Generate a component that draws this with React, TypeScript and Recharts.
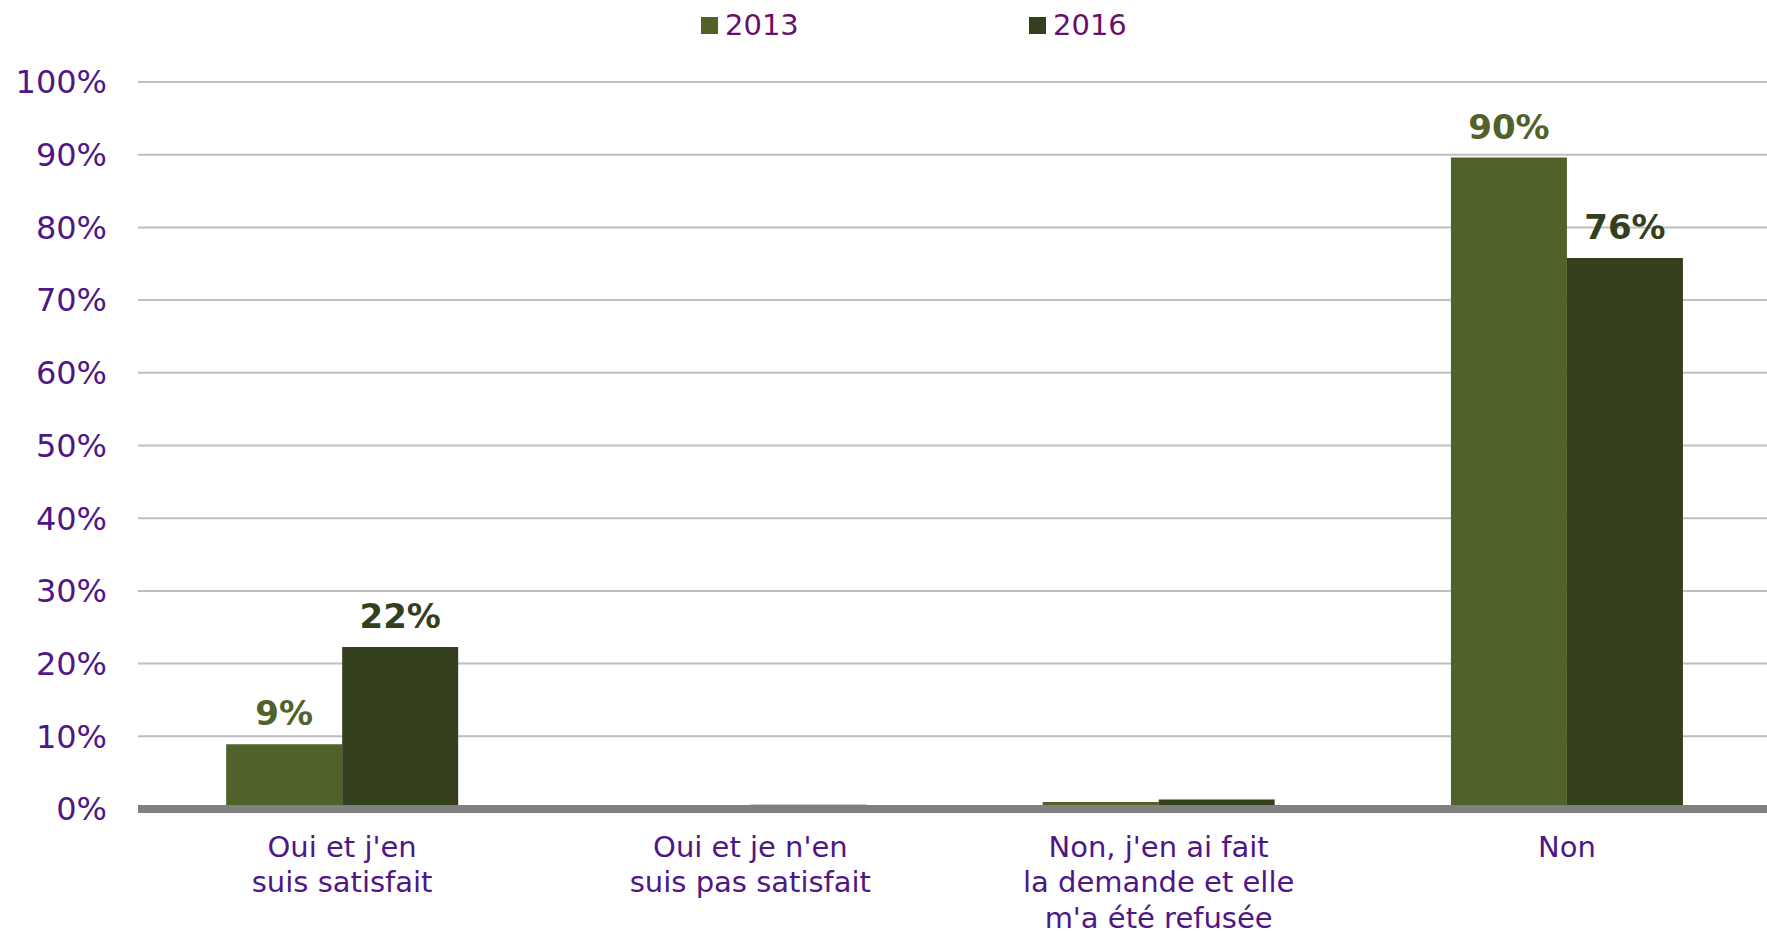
import { BarChart, Bar, XAxis, YAxis, CartesianGrid, LabelList, Legend } from "recharts";

const categories = [
  "Oui et j'en\nsuis satisfait",
  "Oui et je n'en\nsuis pas satisfait",
  "Non, j'en ai fait\nla demande et elle\nm'a été refusée",
  "Non",
];
const values2013 = [0.089, 0, 0.0096, 0.896];
const values2016 = [0.223, 0.006, 0.013, 0.758];
const yTicks = [0, 0.1, 0.2, 0.3, 0.4, 0.5, 0.6, 0.7, 0.8, 0.9, 1];
const seriesNames = ["2013", "2016"];

const colors = ["#50622A", "#333F1D"];
const tickColor = "#4E1786";
const legendColor = "#6A0F6A";
const font = "'DejaVu Sans', Verdana, sans-serif";

const data = categories.map((c, i) => ({ name: c, s2013: values2013[i], s2016: values2016[i] }));

const pct = (v: number) => `${Math.round(v * 100)}%`;

function CategoryTick(props: any) {
  const { x, y, payload } = props;
  const lines = String(payload.value).split("\n");
  return (
    <text x={x} y={y} textAnchor="middle" fill={tickColor} fontSize={29} fontFamily={font}>
      {lines.map((l, i) => (
        <tspan key={i} x={x} dy={i === 0 ? 48 : 35.4}>
          {l}
        </tspan>
      ))}
    </text>
  );
}

const makeLabel = (color: string) => (props: any) => {
  const { x, y, width, value } = props;
  if (value == null || value < 0.05) return null;
  return (
    <text
      x={x + width / 2}
      y={y - 19}
      textAnchor="middle"
      fill={color}
      fontSize={34}
      fontWeight="bold"
      fontFamily={font}
    >
      {pct(value)}
    </text>
  );
};

function LegendContent() {
  const lefts = [701, 1029];
  return (
    <div style={{ position: "relative", width: 1767, height: 50 }}>
      {seriesNames.map((n, i) => (
        <div
          key={n}
          style={{
            position: "absolute",
            left: lefts[i],
            top: 8,
            display: "flex",
            alignItems: "center",
            fontFamily: font,
            fontSize: 29,
            color: legendColor,
            lineHeight: "34px",
          }}
        >
          <span style={{ width: 17, height: 17, background: colors[i], marginRight: 7, display: "inline-block" }} />
          {n}
        </div>
      ))}
    </div>
  );
}

export default function App() {
  return (
    <div style={{ position: "absolute", left: 0, top: 0, width: 1767, height: 934, background: "#fff", overflow: "hidden" }}>
      <BarChart
        width={1767}
        height={934}
        data={data}
        margin={{ top: 32, right: -4, bottom: 0, left: 0 }}
        barCategoryGap="21.6%"
        barGap={0}
      >
        <Legend
          verticalAlign="top"
          align="left"
          content={<LegendContent />}
          wrapperStyle={{ top: 0, left: 0, width: 1767, height: 50 }}
        />
        <CartesianGrid vertical={false} stroke="#BFBFBF" strokeWidth={2} />
        <YAxis
          domain={[0, 1]}
          ticks={yTicks}
          interval={0}
          width={138}
          tickSize={0}
          tickMargin={31}
          axisLine={false}
          tickLine={false}
          tickFormatter={pct}
          tick={{ fill: tickColor, fontSize: 32, fontFamily: font }}
        />
        <XAxis
          dataKey="name"
          interval={0}
          height={125}
          tickSize={0}
          tickMargin={0}
          tickLine={false}
          axisLine={{ stroke: "#808080", strokeWidth: 8 }}
          tick={<CategoryTick />}
        />
        <Bar dataKey="s2013" name={seriesNames[0]} fill={colors[0]} isAnimationActive={false}>
          <LabelList dataKey="s2013" content={makeLabel(colors[0])} />
        </Bar>
        <Bar dataKey="s2016" name={seriesNames[1]} fill={colors[1]} isAnimationActive={false}>
          <LabelList dataKey="s2016" content={makeLabel(colors[1])} />
        </Bar>
      </BarChart>
    </div>
  );
}
